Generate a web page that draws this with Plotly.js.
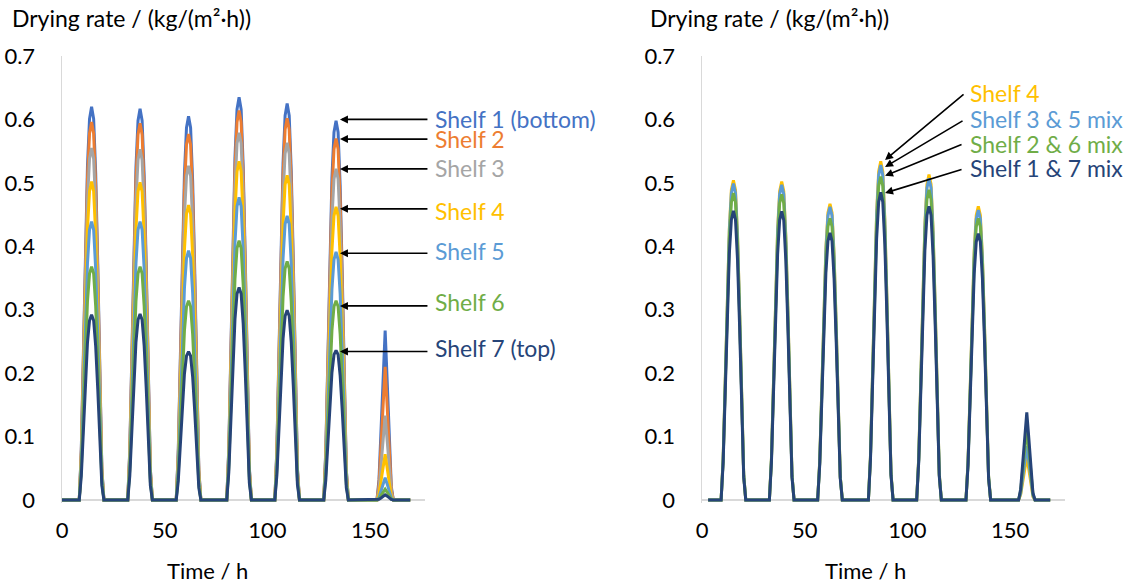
<!DOCTYPE html>
<html>
<head>
<meta charset="utf-8">
<script src="https://cdn.plot.ly/plotly-3.0.1.min.js"></script>
<style>html,body{margin:0;padding:0;background:#fff;}#chart{width:1129px;height:583px;}</style>
</head>
<body>
<div id="chart"></div>
<script>
// ---------- DATA ----------
const yTicks = [0, 0.1, 0.2, 0.3, 0.4, 0.5, 0.6, 0.7];
const xTicks = [0, 50, 100, 150];

// Left chart: time (h)
const timeLeft = [0,
  8.4,9.4,10.4,11.4,12.4,13.4,14.4,15.4,16.4,17.4,18.4,19.4,20.4,
  32,33,34,35,36,37,38,39,40,41,42,43,44,
  55.6,56.6,57.6,58.6,59.6,60.6,61.6,62.6,63.6,64.6,65.6,66.6,67.6,
  80.2,81.2,82.2,83.2,84.2,85.2,86.2,87.2,88.2,89.2,90.2,91.2,92.2,
  103.6,104.6,105.6,106.6,107.6,108.6,109.6,110.6,111.6,112.6,113.6,114.6,115.6,
  127.4,128.4,129.4,130.4,131.4,132.4,133.4,134.4,135.4,136.4,137.4,138.4,139.4,
  153.3,154.3,155.3,156.3,157.3,158.3,159.3,160.3,161.3,
  169.5];

const shelf1 = [0,
  0,0.081,0.248,0.403,0.527,0.601,0.620,0.601,0.515,0.372,0.205,0.050,0,
  0,0.080,0.247,0.401,0.524,0.598,0.617,0.598,0.512,0.370,0.204,0.049,0,
  0,0.079,0.242,0.393,0.514,0.587,0.605,0.587,0.502,0.363,0.200,0.048,0,
  0,0.083,0.254,0.413,0.540,0.616,0.635,0.616,0.527,0.381,0.210,0.051,0,
  0,0.081,0.250,0.406,0.531,0.606,0.625,0.606,0.519,0.375,0.206,0.050,0,
  0,0.078,0.239,0.389,0.508,0.580,0.598,0.580,0.496,0.359,0.197,0.048,0,
  0,0.032,0.112,0.200,0.267,0.187,0.093,0.021,0,
  0];
const shelf2 = [0,
  0,0.077,0.238,0.387,0.507,0.578,0.596,0.578,0.495,0.358,0.197,0.048,0,
  0,0.077,0.238,0.386,0.505,0.576,0.594,0.576,0.493,0.356,0.196,0.048,0,
  0,0.075,0.231,0.375,0.490,0.560,0.577,0.560,0.479,0.346,0.190,0.046,0,
  0,0.080,0.246,0.399,0.522,0.596,0.614,0.596,0.510,0.368,0.203,0.049,0,
  0,0.078,0.241,0.391,0.512,0.584,0.602,0.584,0.500,0.361,0.199,0.048,0,
  0,0.074,0.228,0.371,0.485,0.553,0.570,0.553,0.473,0.342,0.188,0.046,0,
  0,0.025,0.088,0.158,0.210,0.147,0.074,0.017,0,
  0];
const shelf3 = [0,
  0,0.072,0.222,0.361,0.472,0.538,0.555,0.538,0.461,0.333,0.183,0.044,0,
  0,0.072,0.221,0.359,0.470,0.536,0.553,0.536,0.459,0.332,0.182,0.044,0,
  0,0.069,0.211,0.343,0.448,0.511,0.527,0.511,0.437,0.316,0.174,0.042,0,
  0,0.075,0.232,0.376,0.492,0.562,0.579,0.562,0.481,0.347,0.191,0.046,0,
  0,0.073,0.225,0.366,0.479,0.546,0.563,0.546,0.467,0.338,0.186,0.045,0,
  0,0.068,0.209,0.339,0.444,0.506,0.522,0.506,0.433,0.313,0.172,0.042,0,
  0,0.016,0.056,0.100,0.133,0.093,0.047,0.011,0,
  0];
const shelf4 = [0,
  0,0.065,0.201,0.326,0.427,0.487,0.502,0.487,0.417,0.301,0.166,0.040,0,
  0,0.065,0.200,0.326,0.426,0.486,0.501,0.486,0.416,0.301,0.165,0.040,0,
  0,0.060,0.186,0.302,0.395,0.451,0.465,0.451,0.386,0.279,0.153,0.037,0,
  0,0.069,0.214,0.347,0.454,0.518,0.534,0.518,0.443,0.320,0.176,0.043,0,
  0,0.067,0.205,0.333,0.435,0.497,0.512,0.497,0.425,0.307,0.169,0.041,0,
  0,0.060,0.185,0.300,0.393,0.448,0.462,0.448,0.383,0.277,0.152,0.037,0,
  0,0.009,0.030,0.054,0.072,0.050,0.025,0.006,0,
  0];
const shelf5 = [0,
  0,0.057,0.176,0.285,0.373,0.426,0.439,0.426,0.364,0.263,0.145,0.035,0,
  0,0.057,0.176,0.285,0.373,0.426,0.439,0.426,0.364,0.263,0.145,0.035,0,
  0,0.051,0.157,0.255,0.334,0.381,0.393,0.381,0.326,0.236,0.130,0.031,0,
  0,0.062,0.191,0.310,0.405,0.463,0.477,0.463,0.396,0.286,0.157,0.038,0,
  0,0.058,0.179,0.291,0.381,0.435,0.448,0.435,0.372,0.269,0.148,0.036,0,
  0,0.051,0.156,0.254,0.332,0.379,0.391,0.379,0.325,0.235,0.129,0.031,0,
  0,0.004,0.015,0.026,0.035,0.025,0.012,0.003,0,
  0];
const shelf6 = [0,
  0,0.048,0.147,0.239,0.313,0.357,0.368,0.357,0.305,0.221,0.121,0.029,0,
  0,0.048,0.147,0.239,0.313,0.357,0.368,0.357,0.305,0.221,0.121,0.029,0,
  0,0.041,0.126,0.204,0.267,0.305,0.314,0.305,0.261,0.188,0.104,0.025,0,
  0,0.053,0.164,0.266,0.348,0.397,0.409,0.397,0.339,0.245,0.135,0.033,0,
  0,0.049,0.150,0.244,0.320,0.365,0.376,0.365,0.312,0.226,0.124,0.030,0,
  0,0.041,0.126,0.204,0.267,0.305,0.314,0.305,0.261,0.188,0.104,0.025,0,
  0,0.002,0.007,0.013,0.017,0.012,0.006,0.001,0,
  0];
const shelf7 = [0,
  0,0.038,0.117,0.190,0.248,0.283,0.292,0.283,0.242,0.175,0.096,0.023,0,
  0,0.038,0.117,0.190,0.249,0.284,0.293,0.284,0.243,0.176,0.097,0.023,0,
  0,0.030,0.094,0.152,0.199,0.227,0.234,0.227,0.194,0.140,0.077,0.019,0,
  0,0.044,0.134,0.218,0.285,0.325,0.335,0.325,0.278,0.201,0.111,0.027,0,
  0,0.039,0.120,0.194,0.254,0.290,0.299,0.290,0.248,0.179,0.099,0.024,0,
  0,0.031,0.094,0.153,0.201,0.229,0.236,0.229,0.196,0.142,0.078,0.019,0,
  0,0.001,0.003,0.006,0.008,0.006,0.003,0.001,0,
  0];

// Right chart: time (h)
const timeRight = [3,
  9.3,10.3,11.3,12.3,13.3,14.3,15.3,16.3,17.3,18.3,19.3,20.3,21.3,
  32.8,33.8,34.8,35.8,36.8,37.8,38.8,39.8,40.8,41.8,42.8,43.8,44.8,
  56.3,57.3,58.3,59.3,60.3,61.3,62.3,63.3,64.3,65.3,66.3,67.3,68.3,
  81,82,83,84,85,86,87,88,89,90,91,92,93,
  104.5,105.5,106.5,107.5,108.5,109.5,110.5,111.5,112.5,113.5,114.5,115.5,116.5,
  128.5,129.5,130.5,131.5,132.5,133.5,134.5,135.5,136.5,137.5,138.5,139.5,140.5,
  154.1,155.1,156.1,157.1,158.1,159.1,160.1,161.1,162.1,
  169.5];

const mixShelf4 = [0,
  0,0.066,0.202,0.328,0.428,0.489,0.504,0.489,0.418,0.302,0.166,0.040,0,
  0,0.065,0.201,0.326,0.427,0.487,0.502,0.487,0.417,0.301,0.166,0.040,0,
  0,0.061,0.187,0.304,0.397,0.453,0.467,0.453,0.388,0.280,0.154,0.037,0,
  0,0.069,0.214,0.347,0.454,0.518,0.534,0.518,0.443,0.320,0.176,0.043,0,
  0,0.067,0.205,0.333,0.436,0.498,0.513,0.498,0.426,0.308,0.169,0.041,0,
  0,0.060,0.185,0.301,0.394,0.449,0.463,0.449,0.384,0.278,0.153,0.037,0,
  0,0.008,0.029,0.051,0.068,0.048,0.024,0.005,0,
  0];
const mixShelf35 = [0,
  0,0.065,0.200,0.324,0.424,0.484,0.499,0.484,0.414,0.299,0.165,0.040,0,
  0,0.065,0.199,0.323,0.422,0.482,0.497,0.482,0.413,0.298,0.164,0.040,0,
  0,0.060,0.185,0.300,0.393,0.448,0.462,0.448,0.383,0.277,0.152,0.037,0,
  0,0.069,0.211,0.343,0.449,0.512,0.528,0.512,0.438,0.317,0.174,0.042,0,
  0,0.066,0.203,0.330,0.431,0.492,0.507,0.492,0.421,0.304,0.167,0.041,0,
  0,0.059,0.183,0.297,0.388,0.443,0.457,0.443,0.379,0.274,0.151,0.037,0,
  0,0.010,0.036,0.064,0.085,0.060,0.030,0.007,0,
  0];
const mixShelf26 = [0,
  0,0.063,0.194,0.315,0.411,0.469,0.484,0.469,0.402,0.290,0.160,0.039,0,
  0,0.063,0.193,0.313,0.410,0.468,0.482,0.468,0.400,0.289,0.159,0.039,0,
  0,0.058,0.178,0.289,0.377,0.431,0.444,0.431,0.369,0.266,0.147,0.036,0,
  0,0.066,0.204,0.332,0.434,0.495,0.510,0.495,0.423,0.306,0.168,0.041,0,
  0,0.064,0.196,0.318,0.416,0.474,0.489,0.474,0.406,0.293,0.161,0.039,0,
  0,0.058,0.178,0.289,0.377,0.431,0.444,0.431,0.369,0.266,0.147,0.036,0,
  0,0.014,0.047,0.085,0.113,0.079,0.040,0.009,0,
  0];
const mixShelf17 = [0,
  0,0.059,0.182,0.296,0.388,0.442,0.456,0.442,0.378,0.274,0.150,0.036,0,
  0,0.059,0.182,0.296,0.387,0.441,0.455,0.441,0.378,0.273,0.150,0.036,0,
  0,0.055,0.168,0.274,0.358,0.408,0.421,0.408,0.349,0.253,0.139,0.034,0,
  0,0.063,0.194,0.315,0.412,0.470,0.485,0.470,0.403,0.291,0.160,0.039,0,
  0,0.060,0.185,0.301,0.394,0.449,0.463,0.449,0.384,0.278,0.153,0.037,0,
  0,0.055,0.168,0.273,0.357,0.407,0.420,0.407,0.349,0.252,0.139,0.034,0,
  0,0.017,0.058,0.104,0.138,0.097,0.048,0.011,0,
  0];

const leftNames = ["Shelf 1 (bottom)", "Shelf 2", "Shelf 3", "Shelf 4", "Shelf 5", "Shelf 6", "Shelf 7 (top)"];
const leftSeries = [shelf1, shelf2, shelf3, shelf4, shelf5, shelf6, shelf7];
const leftColors = ["#4472C4", "#ED7D31", "#A5A5A5", "#FFC000", "#5B9BD5", "#70AD47", "#264478"];
// arrow targets (value at hump 6, time) and label offsets
const leftArrowTime = 135.3;
const leftArrowValue = [0.600, 0.569, 0.522, 0.459, 0.389, 0.306, 0.234];
const leftLabelY = [119, 139, 168, 211, 251, 302, 348];   // px from top

const rightNames = ["Shelf 4", "Shelf 3 & 5 mix", "Shelf 2 & 6 mix", "Shelf 1 & 7 mix"];
const rightSeries = [mixShelf4, mixShelf35, mixShelf26, mixShelf17];
const rightColors = ["#FFC000", "#5B9BD5", "#70AD47", "#264478"];
const rightArrowTime = 89.1;
const rightArrowValue = [0.536, 0.525, 0.511, 0.484];
const rightLabelY = [93, 119, 144, 168];

// ---------- LAYOUT HELPERS ----------
const W = 1129, H = 583;
const FONT = "Lato, 'Open Sans', sans-serif";
const LABEL_SIZE = 23, TICK_SIZE = 22;
const fx = px => px / W;
const fy = py => (H - py) / H;

const traces = [];
leftSeries.forEach((s, i) => traces.push({
  x: timeLeft, y: s, xaxis: 'x', yaxis: 'y', type: 'scatter', mode: 'lines',
  name: leftNames[i], line: {color: leftColors[i], width: 3}, hoverinfo: 'skip'
}));
rightSeries.forEach((s, i) => traces.push({
  x: timeRight, y: s, xaxis: 'x2', yaxis: 'y2', type: 'scatter', mode: 'lines',
  name: rightNames[i], line: {color: rightColors[i], width: 3}, hoverinfo: 'skip'
}));

const annotations = [];
// Axis titles
[10, 648].forEach(px => annotations.push({
  xref: 'paper', yref: 'paper', x: fx(px), y: fy(18), xanchor: 'left', yanchor: 'middle',
  text: 'Drying rate / (kg/(m²·h))', showarrow: false, font: {family: FONT, size: LABEL_SIZE, color: '#000'}
}));
[207, 865].forEach(px => annotations.push({
  xref: 'paper', yref: 'paper', x: fx(px), y: fy(570), xanchor: 'center', yanchor: 'middle',
  text: 'Time / h', showarrow: false, font: {family: FONT, size: TICK_SIZE, color: '#000'}
}));
// Left arrows + labels
leftNames.forEach((n, i) => {
  annotations.push({
    xref: 'x', yref: 'y', x: leftArrowTime, y: leftArrowValue[i], text: '', showarrow: true,
    ax: 89, ay: 0, arrowhead: 2, arrowsize: 1, arrowwidth: 1.6, arrowcolor: '#000'
  });
  annotations.push({
    xref: 'paper', yref: 'paper', x: fx(433), y: fy(leftLabelY[i]), xanchor: 'left', yanchor: 'middle',
    text: n, showarrow: false, font: {family: FONT, size: LABEL_SIZE, color: leftColors[i]}
  });
});
// Right arrows + labels
const rightTail = [[80, -67], [79, -47], [78, -32], [78, -24]];
rightNames.forEach((n, i) => {
  annotations.push({
    xref: 'x2', yref: 'y2', x: rightArrowTime, y: rightArrowValue[i], text: '', showarrow: true,
    ax: rightTail[i][0], ay: rightTail[i][1], arrowhead: 2, arrowsize: 1, arrowwidth: 1.6, arrowcolor: '#000'
  });
  annotations.push({
    xref: 'paper', yref: 'paper', x: fx(968), y: fy(rightLabelY[i]), xanchor: 'left', yanchor: 'middle',
    text: n, showarrow: false, font: {family: FONT, size: LABEL_SIZE, color: rightColors[i]}
  });
});

const xCommon = {
  range: [0, 176.7], tickvals: xTicks, ticks: '', showgrid: false, zeroline: false,
  showline: false, tickfont: {family: FONT, size: TICK_SIZE, color: '#000'}, ticklabelstandoff: 12, fixedrange: true
};
const yCommon = {
  range: [-0.004, 0.7], tickvals: yTicks, ticks: '', showgrid: false,
  zeroline: true, zerolinecolor: '#D9D9D9', zerolinewidth: 1.5,
  showline: true, linecolor: '#D9D9D9', linewidth: 1.5,
  tickfont: {family: FONT, size: TICK_SIZE, color: '#000'}, ticklabelstandoff: 21, fixedrange: true
};

const layout = {
  width: W, height: H, margin: {l: 0, r: 0, t: 0, b: 0},
  paper_bgcolor: '#fff', plot_bgcolor: '#fff', showlegend: false,
  xaxis: Object.assign({}, xCommon, {domain: [fx(62), fx(425)], anchor: 'y'}),
  yaxis: Object.assign({}, yCommon, {domain: [fy(502.5), fy(56)], anchor: 'x'}),
  xaxis2: Object.assign({}, xCommon, {domain: [fx(702), fx(1065)], anchor: 'y2'}),
  yaxis2: Object.assign({}, yCommon, {domain: [fy(502.5), fy(56)], anchor: 'x2'}),
  annotations: annotations
};

Plotly.newPlot('chart', traces, layout, {staticPlot: true, displayModeBar: false});
</script>
</body>
</html>
